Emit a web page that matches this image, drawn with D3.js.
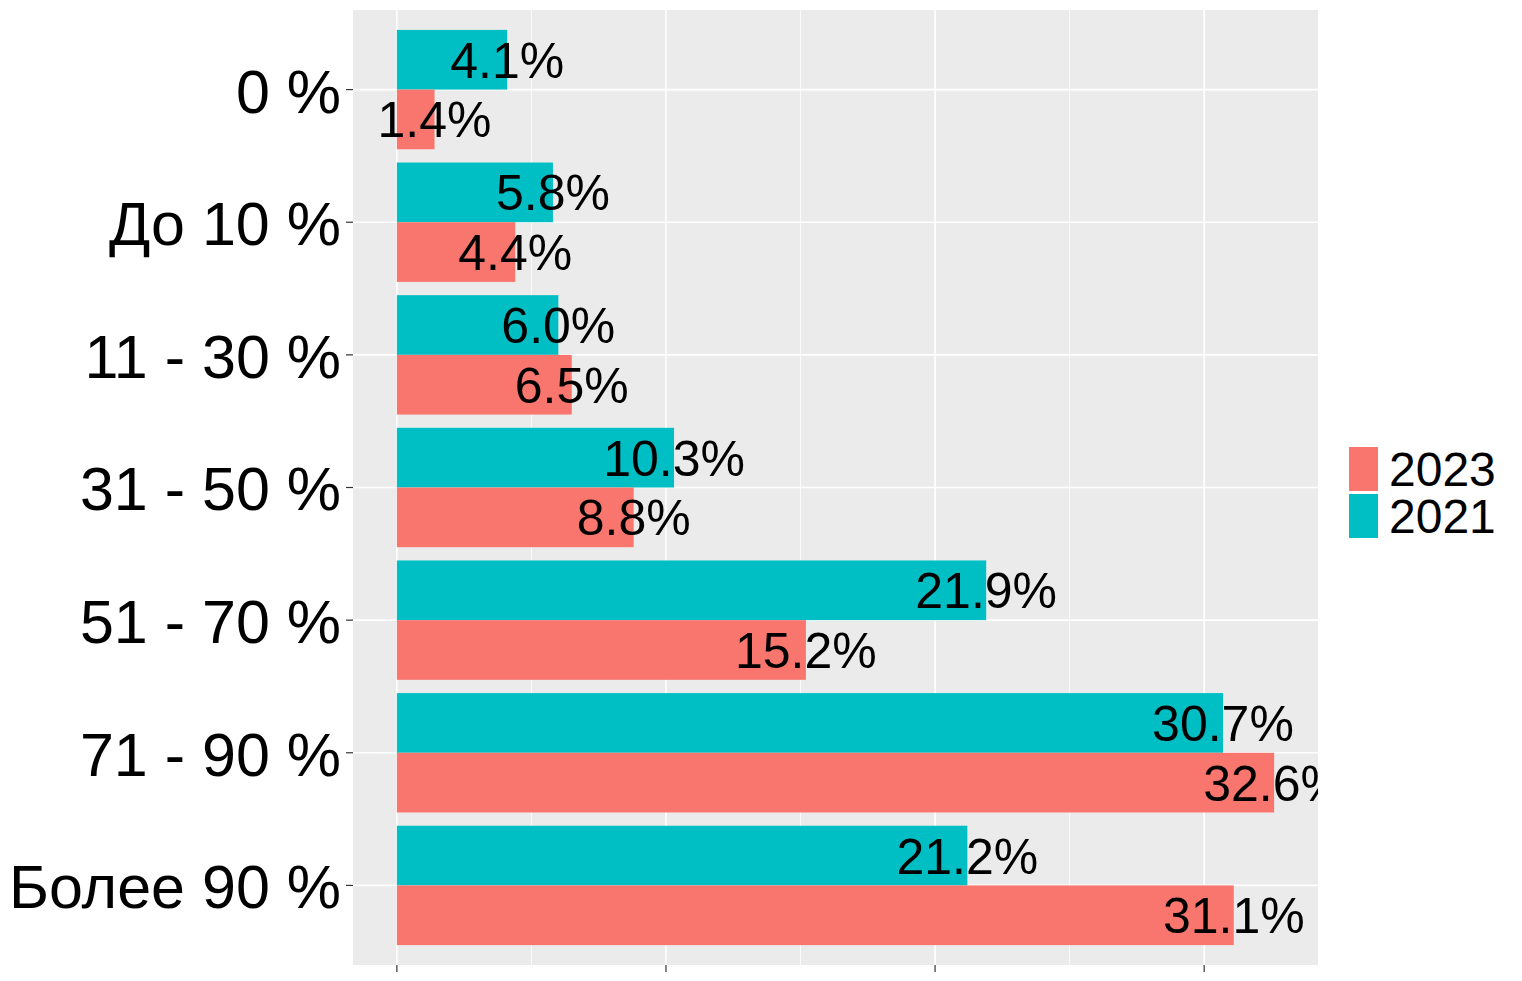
<!DOCTYPE html>
<html>
<head>
<meta charset="utf-8">
<script src="https://cdn.jsdelivr.net/npm/d3@7/dist/d3.min.js"></script>
<style>
html,body{margin:0;padding:0;background:#fff;}
svg{display:block;font-family:"Liberation Sans",Arial,sans-serif;}
</style>
</head>
<body>
<svg id="chart" width="1522" height="981"></svg>
<script>
const categories = ["0 %", "До 10 %", "11 - 30 %", "31 - 50 %", "51 - 70 %", "71 - 90 %", "Более 90 %"];
const values2021 = [4.1, 5.8, 6.0, 10.3, 21.9, 30.7, 21.2];
const values2023 = [1.4, 4.4, 6.5, 8.8, 15.2, 32.6, 31.1];
const seriesNames = ["2023", "2021"];
const seriesColors = ["#F8766D", "#00BFC4"];
const xMajorTicks = [0, 10, 20, 30];
const xMinorTicks = [5, 15, 25];

const svg = d3.select("#chart");
const panel = {left: 353, right: 1318, top: 10, bottom: 965};

const maxV = d3.max(values2021.concat(values2023));
const pad = maxV * 0.05;
const x = d3.scaleLinear().domain([0 - pad, maxV + pad]).range([panel.left, panel.right]);
const y = d3.scaleLinear().domain([-0.6, categories.length - 1 + 0.6]).range([panel.top, panel.bottom]);

svg.append("defs").append("clipPath").attr("id", "pclip")
  .append("rect").attr("x", panel.left).attr("y", panel.top)
  .attr("width", panel.right - panel.left).attr("height", panel.bottom - panel.top);

svg.append("rect").attr("x", panel.left).attr("y", panel.top)
  .attr("width", panel.right - panel.left).attr("height", panel.bottom - panel.top)
  .attr("fill", "#EBEBEB");

const g = svg.append("g").attr("clip-path", "url(#pclip)");

g.selectAll(".minor").data(xMinorTicks).enter().append("line")
  .attr("x1", d => x(d)).attr("x2", d => x(d))
  .attr("y1", panel.top).attr("y2", panel.bottom)
  .attr("stroke", "#fff").attr("stroke-width", 0.8);
g.selectAll(".majorx").data(xMajorTicks).enter().append("line")
  .attr("x1", d => x(d)).attr("x2", d => x(d))
  .attr("y1", panel.top).attr("y2", panel.bottom)
  .attr("stroke", "#fff").attr("stroke-width", 1.6);
g.selectAll(".majory").data(categories).enter().append("line")
  .attr("y1", (d, i) => y(i)).attr("y2", (d, i) => y(i))
  .attr("x1", panel.left).attr("x2", panel.right)
  .attr("stroke", "#fff").attr("stroke-width", 1.6);

const half = 0.45;
g.selectAll(".b21").data(values2021).enter().append("rect")
  .attr("x", x(0)).attr("width", d => x(d) - x(0))
  .attr("y", (d, i) => y(i - half)).attr("height", (d, i) => y(i) - y(i - half))
  .attr("fill", seriesColors[1]);
g.selectAll(".b23").data(values2023).enter().append("rect")
  .attr("x", x(0)).attr("width", d => x(d) - x(0))
  .attr("y", (d, i) => y(i)).attr("height", (d, i) => y(i + half) - y(i))
  .attr("fill", seriesColors[0]);

const labFs = 50;
g.selectAll(".t21").data(values2021).enter().append("text")
  .attr("x", d => x(d)).attr("y", (d, i) => y(i - half / 2) + 0.36 * labFs)
  .attr("text-anchor", "middle").attr("font-size", labFs).attr("fill", "#000")
  .text(d => d.toFixed(1) + "%");
g.selectAll(".t23").data(values2023).enter().append("text")
  .attr("x", d => x(d)).attr("y", (d, i) => y(i + half / 2) + 0.36 * labFs)
  .attr("text-anchor", "middle").attr("font-size", labFs).attr("fill", "#000")
  .text(d => d.toFixed(1) + "%");

const catFs = 61;
svg.selectAll(".yt").data(categories).enter().append("line")
  .attr("x1", panel.left - 7).attr("x2", panel.left)
  .attr("y1", (d, i) => y(i)).attr("y2", (d, i) => y(i))
  .attr("stroke", "#333").attr("stroke-width", 1.2);
svg.selectAll(".yl").data(categories).enter().append("text")
  .attr("x", panel.left - 12).attr("y", (d, i) => y(i) + 0.36 * catFs + 1)
  .attr("text-anchor", "end").attr("font-size", catFs).attr("fill", "#000")
  .text(d => d);

svg.selectAll(".xt").data(xMajorTicks).enter().append("line")
  .attr("x1", d => x(d)).attr("x2", d => x(d))
  .attr("y1", panel.bottom).attr("y2", panel.bottom + 7)
  .attr("stroke", "#333").attr("stroke-width", 1.2);

const legFs = 48;
const leg = svg.append("g");
const keyX = 1349, keyW = 29, keyH = 44, keyTop = 447, keyGap = 3;
seriesNames.forEach((name, i) => {
  const top = keyTop + i * (keyH + keyGap);
  leg.append("rect").attr("x", keyX).attr("y", top).attr("width", keyW).attr("height", keyH)
    .attr("fill", seriesColors[i]);
  leg.append("text").attr("x", keyX + keyW + 11).attr("y", top + keyH / 2 + 0.36 * legFs)
    .attr("font-size", legFs).attr("fill", "#000").text(name);
});
</script>
</body>
</html>
